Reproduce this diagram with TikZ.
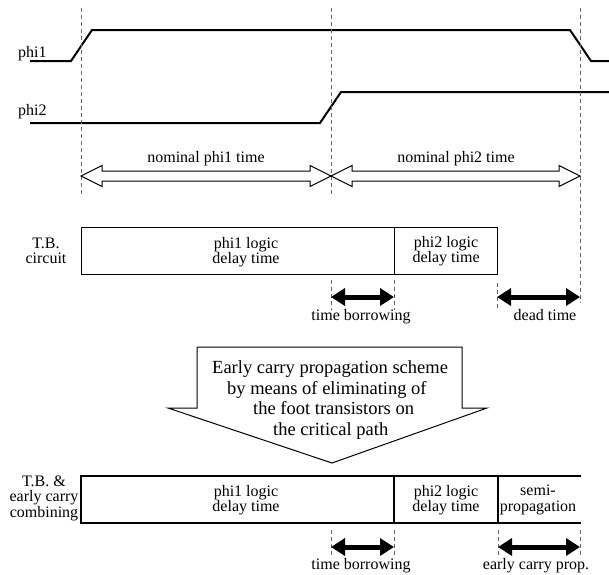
\documentclass[tikz,border=0pt]{standalone}
\usepackage{fontspec}
\setmainfont{Liberation Serif}
\usetikzlibrary{arrows.meta,calc}
\begin{document}
\begin{tikzpicture}[x=1pt,y=-1pt,
  sig/.style={line width=2pt, line join=miter},
  guide/.style={draw=black!60, line width=0.9pt, dash pattern=on 4pt off 3pt},
  frame/.style={draw, line width=1.1pt, inner sep=0pt, anchor=north west},
  txt/.style={font=\fontsize{16}{15.5}\selectfont, align=center, inner sep=0pt},
  bigtxt/.style={font=\fontsize{18.5}{20}\selectfont, inner sep=0pt, anchor=base west},
  span/.style={line width=5pt, {Triangle[length=14pt,width=17pt]}-{Triangle[length=14pt,width=17pt]}},
  hollow/.style={draw, line width=1pt, fill=white, line join=miter},
  hollowspan/.style={to path={
    -- ++(21,-10.5) -- ++(0,5.5) -- ($(\tikztotarget)+(-21,-5)$) -- ++(0,-5.5)
    -- (\tikztotarget) -- ++(-21,10.5) -- ++(0,-5.5) -- ($(\tikztostart)+(21,5)$)
    -- ++(0,5.5) -- cycle}},
]
\useasboundingbox (0,0) rectangle (609,574);

% clock waveforms
\node[txt, anchor=base west] (phione) at (18,57) {phi1};
\node[txt, anchor=base west] (phitwo) at (18,115) {phi2};
\draw[sig] (30,61) -- (71,61) -- (92,30) -- (570,30) -- (591,61) -- (609,61);
\draw[sig] (30,123) -- (320,123) -- (341,92) -- (609,92);

% phase boundaries
\coordinate (ga) at (81,8);   \coordinate (gA) at (81,197);
\coordinate (gb) at (331,8);  \coordinate (gB) at (331,197);
\coordinate (gc) at (580,8);  \coordinate (gC) at (580,303);
\draw[guide] (ga) -- (gA);
\draw[guide] (gb) -- (gB);
\draw[guide] (gc) -- (gC);

% nominal phase spans
\coordinate (na) at (81,176);
\coordinate (nb) at (331,176);
\coordinate (nc) at (580,176);
\draw[hollow] (na) to[hollowspan] (nb);
\draw[hollow] (nb) to[hollowspan] (nc);
\node[txt, anchor=base] (nomone) at (206,162) {nominal phi1 time};
\node[txt, anchor=base] (nomtwo) at (456,162) {nominal phi2 time};

% T.B. circuit row
\node[txt] (tbc) at (46,251) {T.B.\\circuit};
\node[frame, minimum width=313pt, minimum height=47pt] (cA) at (81,227) {};
\node[frame, minimum width=103pt, minimum height=47pt] (cB) at (394,227) {};
\node[txt] (cAt) at (246,252) {phi1 logic\\delay time};
\node[txt] (cBt) at (cB.center) {phi2 logic\\delay time};

\coordinate (ta) at (331,280); \coordinate (tA) at (331,310);
\coordinate (tb) at (394,280); \coordinate (tB) at (394,310);
\coordinate (tc) at (497,283); \coordinate (tC) at (497,310);
\draw[guide] (ta) -- (tA);
\draw[guide] (tb) -- (tB);
\draw[guide] (tc) -- (tC);
\coordinate (sa) at (331,297); \coordinate (sb) at (394,297);
\coordinate (sc) at (497,297); \coordinate (sd) at (580,297);
\draw[span] (sa) -- (sb);
\draw[span] (sc) -- (sd);
\node[txt, anchor=base] (tbor) at (361,320) {time borrowing};
\node[txt, anchor=base] (dead) at (545,320) {dead time};

% transformation arrow
\draw[line width=1pt, line join=miter, fill=white]
  (197,347) -- (462,347) -- (462,408) -- (487,408) -- (332,463)
  -- (168,408) -- (197,408) -- cycle;
\node[bigtxt] (ln1) at (212,373) {Early carry propagation scheme};
\node[bigtxt] (ln2) at (227,394) {by means of eliminating of};
\node[bigtxt] (ln3) at (253,414) {the foot transistors on};
\node[bigtxt] (ln4) at (273,435) {the critical path};

% T.B. & early carry row
\node[txt] (tbe) at (44,498) {T.B. \&\\early carry\\combining};
\draw[line width=1.1pt] (581,476) -- (81,476) -- (81,523) -- (581,523);
\draw[line width=1.1pt] (394,476) -- (394,523);
\draw[line width=1.1pt] (498,476) -- (498,523);
\node[txt] (eAt) at (246,500) {phi1 logic\\delay time};
\node[txt] (eBt) at (446,500) {phi2 logic\\delay time};
\node[txt] (eCt) at (538,500) {semi-\\propagation};

\coordinate (ua) at (331,530); \coordinate (uA) at (331,558);
\coordinate (ub) at (394,530); \coordinate (uB) at (394,558);
\coordinate (uc) at (498,530); \coordinate (uC) at (498,558);
\coordinate (ud) at (580,530); \coordinate (uD) at (580,558);
\draw[guide] (ua) -- (uA);
\draw[guide] (ub) -- (uB);
\draw[guide] (uc) -- (uC);
\draw[guide] (ud) -- (uD);
\coordinate (va) at (331,547); \coordinate (vb) at (394,547);
\coordinate (vc) at (498,547); \coordinate (vd) at (580,547);
\draw[span] (va) -- (vb);
\draw[span] (vc) -- (vd);
\node[txt, anchor=base] (tbor2) at (361,569) {time borrowing};
\node[txt, anchor=base] (early) at (536,569) {early carry prop.};
\end{tikzpicture}
\end{document}
